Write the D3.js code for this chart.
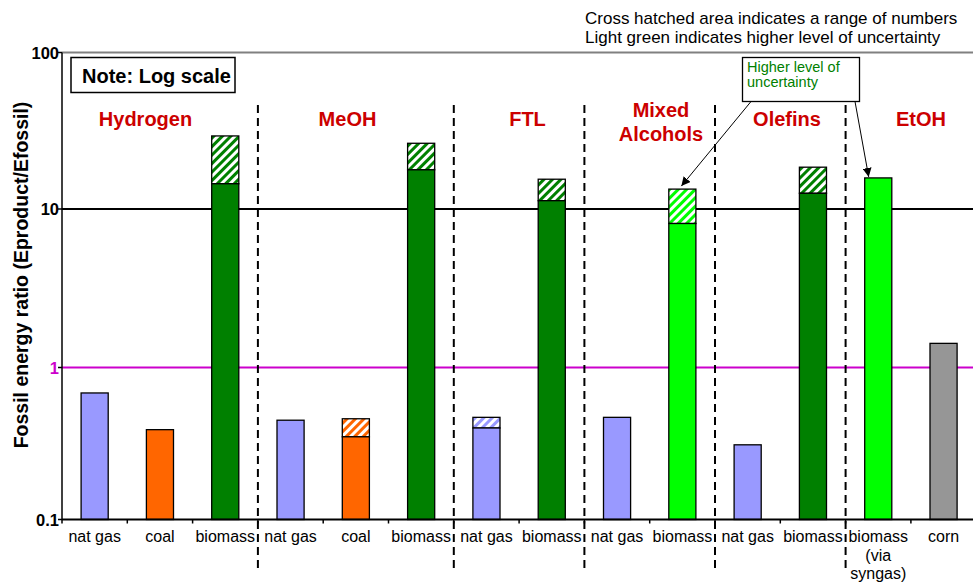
<!DOCTYPE html>
<html><head><meta charset="utf-8">
<script src="https://cdn.jsdelivr.net/npm/d3@7"></script>
<style>body{margin:0;background:#fff}svg{display:block}text{font-family:"Liberation Sans",Arial,sans-serif}</style>
</head><body><svg id="c" width="973" height="584"></svg>
<script>
// ---- data ----
const groups = ["Hydrogen", "MeOH", "FTL", "Mixed Alcohols", "Olefins", "EtOH"];
const groupLabelLines = [["Hydrogen"], ["MeOH"], ["FTL"], ["Mixed", "Alcohols"], ["Olefins"], ["EtOH"]];
const feedstocks = ["nat gas", "coal", "biomass", "nat gas", "coal", "biomass", "nat gas", "biomass",
                    "nat gas", "biomass", "nat gas", "biomass", "biomass (via syngas)", "corn"];
const feedLabelLines = [["nat gas"], ["coal"], ["biomass"], ["nat gas"], ["coal"], ["biomass"], ["nat gas"], ["biomass"],
                    ["nat gas"], ["biomass"], ["nat gas"], ["biomass"], ["biomass", "(via", "syngas)"], ["corn"]];
const groupIndex = [0, 0, 0, 1, 1, 1, 2, 2, 3, 3, 4, 4, 5, 5];
const feedType = ["gas", "coal", "bio", "gas", "coal", "bio", "gas", "bio", "gas", "bioU", "gas", "bio", "bioU", "corn"];
const baseValues = [0.68, 0.39, 14.5, 0.45, 0.35, 17.8, 0.40, 11.3, 0.47, 8.1, 0.31, 12.6, 15.8, 1.42];
const rangeTop   = [null, null, 29.3, null, 0.46, 26.3, 0.47, 15.5, null, 13.4, null, 18.5, null, null];
const yTicks = [0.1, 1, 10, 100];
const yTickLabels = ["0.1", "1", "10", "100"];
const notes = ["Cross hatched area indicates a range of numbers", "Light green indicates higher level of uncertainty"];

// ---- styles ----
const colors = {gas: "#9999FF", coal: "#FF6600", bio: "#008000", bioU: "#00FF00", corn: "#969696"};
const W = 973, H = 584;
const L = 62, T = 52.5, B = 519.5;
const step = 65.3;

const svg = d3.select("#c");
const x = d3.scaleBand().domain(d3.range(feedstocks.length))
  .range([L, L + step * feedstocks.length]).paddingInner(0.585).paddingOuter(0.2925);
const y = d3.scaleLog().domain([0.1, 1, 10, 100]).range([B, 367.5, 209, T]);

// hatch patterns
const defs = svg.append("defs");
Object.entries(colors).forEach(([k, c]) => {
  const p = defs.append("pattern").attr("id", "h-" + k).attr("patternUnits", "userSpaceOnUse")
    .attr("width", 6).attr("height", 6).attr("patternTransform", "rotate(45)");
  p.append("rect").attr("width", 6).attr("height", 6).attr("fill", "#fff");
  p.append("rect").attr("width", 3).attr("height", 6).attr("fill", c);
});

// top border
svg.append("line").attr("x1", L).attr("x2", W).attr("y1", T).attr("y2", T)
  .attr("stroke", "#808080").attr("stroke-width", 2);
// reference lines at 10 and 1
svg.append("line").attr("x1", L).attr("x2", W).attr("y1", y(10)).attr("y2", y(10))
  .attr("stroke", "#000").attr("stroke-width", 2);
svg.append("line").attr("x1", L).attr("x2", W).attr("y1", y(1)).attr("y2", y(1))
  .attr("stroke", "#CC00CC").attr("stroke-width", 2);

// group separators
const sepIdx = [3, 6, 8, 10, 12];
svg.selectAll(".sep").data(sepIdx).join("line")
  .attr("x1", d => x(d) - x.step() * x.paddingInner() / 2).attr("x2", d => x(d) - x.step() * x.paddingInner() / 2)
  .attr("y1", 105).attr("y2", 571).attr("stroke", "#000").attr("stroke-width", 2).attr("stroke-dasharray", "8,5");

// bars
const bars = svg.append("g");
feedstocks.forEach((f, i) => {
  const c = feedType[i];
  const x0 = x(i), bw = x.bandwidth();
  if (rangeTop[i] != null) {
    bars.append("rect").attr("x", x0).attr("width", bw)
      .attr("y", y(rangeTop[i])).attr("height", y(baseValues[i]) - y(rangeTop[i]))
      .attr("fill", "url(#h-" + c + ")").attr("stroke", "#000").attr("stroke-width", 1.3);
  }
  bars.append("rect").attr("x", x0).attr("width", bw)
    .attr("y", y(baseValues[i])).attr("height", B - y(baseValues[i]))
    .attr("fill", colors[c]).attr("stroke", "#000").attr("stroke-width", 1.3);
});

// axes
svg.append("line").attr("x1", L).attr("x2", W).attr("y1", B).attr("y2", B).attr("stroke", "#000").attr("stroke-width", 2);
svg.append("line").attr("x1", L).attr("x2", L).attr("y1", T).attr("y2", B).attr("stroke", "#000").attr("stroke-width", 1.5);
const bounds = d3.range(feedstocks.length + 1).map(i => L + i * x.step());
svg.selectAll(".xt").data(bounds).join("line").attr("x1", d => d).attr("x2", d => d)
  .attr("y1", B).attr("y2", B + 4).attr("stroke", "#000").attr("stroke-width", 1.5);
svg.selectAll(".yt").data(yTicks).join("line").attr("x1", L - 4).attr("x2", L)
  .attr("y1", d => y(d)).attr("y2", d => y(d)).attr("stroke", "#000").attr("stroke-width", 1.5);
svg.selectAll(".yl").data(yTicks).join("text").attr("x", L - 3).attr("y", d => y(d) + 6)
  .attr("text-anchor", "end").attr("font-size", 16.5).attr("font-weight", "bold")
  .attr("fill", d => d === 1 ? "#CC00CC" : "#000").text((d, i) => yTickLabels[i]);

// x labels
feedLabelLines.forEach((lines, i) => {
  const t = svg.append("text").attr("x", x(i) + x.bandwidth() / 2).attr("y", 542)
    .attr("text-anchor", "middle").attr("font-size", 16).attr("fill", "#000");
  lines.forEach((s, j) => t.append("tspan").attr("x", x(i) + x.bandwidth() / 2).attr("dy", j ? 18.5 : 0).text(s));
});

// y title
svg.append("text").attr("transform", "translate(28,275) rotate(-90)").attr("text-anchor", "middle")
  .attr("font-size", 19.5).attr("font-weight", "bold").text("Fossil energy ratio (Eproduct/Efossil)");

// group labels
const groupLabelX = [145.5, 347.5, 527.5, 661, 787, 921];
groupLabelLines.forEach((lines, g) => {
  const t = svg.append("text").attr("x", groupLabelX[g]).attr("y", lines.length > 1 ? 116.5 : 125.5)
    .attr("text-anchor", "middle").attr("font-size", 20).attr("font-weight", "bold").attr("fill", "#CC0000");
  lines.forEach((s, j) => t.append("tspan").attr("x", groupLabelX[g]).attr("dy", j ? 24 : 0).text(s));
});

// note box
svg.append("rect").attr("x", 71).attr("y", 57.5).attr("width", 164).attr("height", 35)
  .attr("fill", "#fff").attr("stroke", "#000").attr("stroke-width", 1.5);
svg.append("text").attr("x", 82).attr("y", 83).attr("font-size", 20).attr("font-weight", "bold").text("Note: Log scale");

// top-right notes
notes.forEach((s, i) => svg.append("text").attr("x", 585).attr("y", 24 + i * 18.5).attr("font-size", 17).text(s));

// annotation box + arrows
defs.append("marker").attr("id", "arr").attr("viewBox", "0 0 10 10").attr("refX", 10).attr("refY", 5)
  .attr("markerWidth", 9).attr("markerHeight", 9).attr("markerUnits", "userSpaceOnUse").attr("orient", "auto")
  .append("path").attr("d", "M0,0L10,5L0,10z").attr("fill", "#000");
svg.append("line").attr("x1", 751).attr("y1", 101.5).attr("x2", x(9) + x.bandwidth() / 2 - 1).attr("y2", y(rangeTop[9]) - 3)
  .attr("stroke", "#000").attr("stroke-width", 1).attr("marker-end", "url(#arr)");
svg.append("line").attr("x1", 855).attr("y1", 101.5).attr("x2", x(12) + 4).attr("y2", y(baseValues[12]) - 1)
  .attr("stroke", "#000").attr("stroke-width", 1).attr("marker-end", "url(#arr)");
svg.append("rect").attr("x", 742.5).attr("y", 57.5).attr("width", 117).attr("height", 44)
  .attr("fill", "#fff").attr("stroke", "#000").attr("stroke-width", 1.3);
const at = svg.append("text").attr("x", 747).attr("y", 71.5).attr("font-size", 14.5).attr("fill", "#008000");
at.append("tspan").attr("x", 747).text("Higher level of");
at.append("tspan").attr("x", 747).attr("dy", 15).text("uncertainty");
</script></body></html>
